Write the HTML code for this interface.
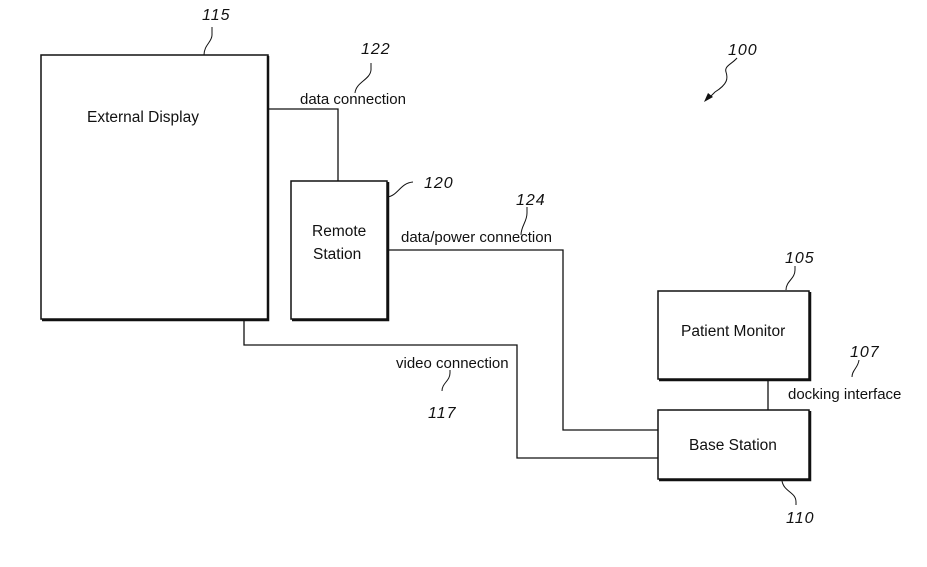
<!DOCTYPE html>
<html><head><meta charset="utf-8"><style>
html,body{margin:0;padding:0;background:#fff;}
svg{display:block;}
text{font-family:"Liberation Sans",Arial,sans-serif;fill:#111;}
.n{font-style:italic;font-size:16px;letter-spacing:1px;}
</style></head><body>
<svg width="927" height="567" viewBox="0 0 927 567" xmlns="http://www.w3.org/2000/svg">
<g fill="none" stroke="#111">
<rect x="41" y="55" width="227" height="264" stroke-width="1.5"/>
<path d="M268 56 V320 H42" stroke-width="2.5"/>
<rect x="291" y="181" width="96" height="138" stroke-width="1.5"/>
<path d="M388 182 V320 H292" stroke-width="2.5"/>
<rect x="658" y="291" width="151" height="88" stroke-width="1.5"/>
<path d="M810 292 V380 H659" stroke-width="2.5"/>
<rect x="658" y="410" width="151" height="69" stroke-width="1.5"/>
<path d="M810 411 V480 H659" stroke-width="2.5"/>
<path d="M268 109 H338 V181" stroke-width="1.3"/>
<path d="M387 250 H563 V430 H658" stroke-width="1.3"/>
<path d="M244 320 V345 H517 V458 H658" stroke-width="1.3"/>
<path d="M768 380 V410" stroke-width="1.3"/>
<path d="M204 55 C204 45 212 42 212 35 C212 30 212 28 212 27" stroke-width="1"/>
<path d="M355 93 C356 82 370 80 371 70 L371 63" stroke-width="1"/>
<path d="M387 197 C398 196 400 183 413 182" stroke-width="1"/>
<path d="M521 235 C521 226 527 222 527 213 L527 207" stroke-width="1"/>
<path d="M786 290 C786 281 795 279 795 270 L795 266" stroke-width="1"/>
<path d="M852 377 C852 370 858 368 859 360" stroke-width="1"/>
<path d="M442 391 C442 383 450 381 450 373 L450 370" stroke-width="1"/>
<path d="M782 481 C784 492 796 492 796 502 L796 505" stroke-width="1"/>
<path d="M737 58 C732 64 724 66 726 72 C728 78 728 84 715 92 L708 99" stroke-width="1"/>
</g>
<path d="M704 102 L708 93 L713 97 Z" fill="#111"/>
<text x="87" y="122" font-size="15.5">External Display</text>
<text x="312" y="236" font-size="15.5">Remote</text>
<text x="313" y="259" font-size="15.5">Station</text>
<text x="681" y="336" font-size="15.5">Patient Monitor</text>
<text x="689" y="450" font-size="15.5">Base Station</text>
<text x="300" y="104" font-size="15">data connection</text>
<text x="401" y="242" font-size="15">data/power connection</text>
<text x="396" y="368" font-size="15">video connection</text>
<text x="788" y="399" font-size="15">docking interface</text>
<text class="n" x="202" y="20">115</text>
<text class="n" x="361" y="54">122</text>
<text class="n" x="424" y="188">120</text>
<text class="n" x="516" y="205">124</text>
<text class="n" x="785" y="263">105</text>
<text class="n" x="850" y="357">107</text>
<text class="n" x="428" y="418">117</text>
<text class="n" x="786" y="523">110</text>
<text class="n" x="728" y="55">100</text>
</svg>
</body></html>
